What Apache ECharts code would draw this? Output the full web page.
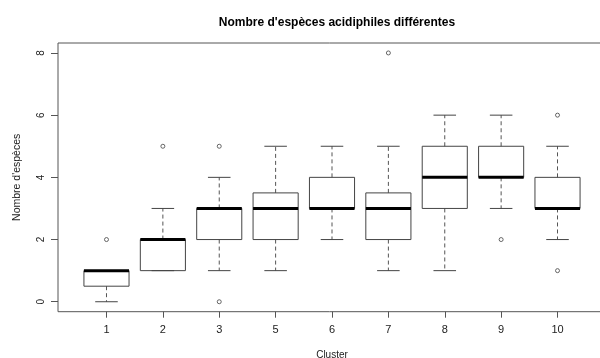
<!DOCTYPE html>
<html><head><meta charset="utf-8">
<script src="https://cdn.jsdelivr.net/npm/echarts@6/dist/echarts.min.js"></script>
<style>html,body{margin:0;padding:0;background:#fff}#c{width:600px;height:358px}</style>
</head><body><div id="c"></div>
<script>
const clusters = ['1','2','3','5','6','7','8','9','10'];
const lowerWhisker = [0, 1, 1, 1, 2, 1, 1, 3, 2];
const q1 = [0.5, 1, 2, 2, 3, 2, 3, 4, 3];
const median = [1, 2, 3, 3, 3, 3, 4, 4, 3];
const q3 = [1, 2, 3, 3.5, 4, 3.5, 5, 5, 4];
const upperWhisker = [1, 3, 4, 5, 5, 5, 6, 6, 5];
const outlierCluster = ['1','2','3','3','7','9','10','10'];
const outlierValue = [2, 5, 0, 5, 8, 2, 1, 6];
const yTicks = [0, 2, 4, 6, 8];

const boxData = clusters.map((c, i) => [i + 1, lowerWhisker[i], q1[i], median[i], q3[i], upperWhisker[i]]);
const outData = outlierCluster.map((c, i) => [clusters.indexOf(c) + 1, outlierValue[i]]);
const xPos = clusters.map((c, i) => i + 1);

const font = 'Liberation Sans, Arial, sans-serif';
const chart = echarts.init(document.getElementById('c'), null, {renderer: 'canvas'});
chart.setOption({
  animation: false,
  backgroundColor: '#fff',
  title: {
    text: "Nombre d'espèces acidiphiles différentes",
    left: 332, top: 12, textAlign: 'center',
    textStyle: {fontFamily: font, fontSize: 12, fontWeight: 'bold', color: '#000'}
  },
  grid: {left: 58, top: 43, right: -6, height: 268.7, show: true, borderColor: '#555', borderWidth: 1, outerBoundsMode: 'none', containLabel: false},
  xAxis: {
    type: 'value', min: 0.14, max: 9.86,
    name: 'Cluster', nameLocation: 'middle', nameGap: 39,
    nameTextStyle: {fontFamily: font, fontSize: 10, color: '#222'},
    axisLine: {show: false, onZero: false},
    splitLine: {show: false},
    axisTick: {show: true, length: 6, customValues: xPos, lineStyle: {color: '#555'}},
    axisLabel: {customValues: xPos, margin: 13, fontFamily: font, fontSize: 11, color: '#222',
      formatter: v => clusters[Math.round(v) - 1]}
  },
  yAxis: {
    type: 'value', min: -0.32, max: 8.32,
    name: "Nombre d'espèces", nameLocation: 'middle', nameGap: 35, nameRotate: 90,
    nameTextStyle: {fontFamily: font, fontSize: 10.5, color: '#222'},
    axisLine: {show: false, onZero: false},
    splitLine: {show: false},
    axisTick: {show: true, length: 7, customValues: yTicks, lineStyle: {color: '#555'}},
    axisLabel: {customValues: yTicks, rotate: 90, margin: 12, fontFamily: font, fontSize: 10, color: '#222'}
  },
  series: [
    {
      type: 'custom',
      data: boxData,
      encode: {x: 0, y: [1, 2, 3, 4, 5]},
      renderItem: function (params, api) {
        const x = api.value(0);
        const lo = api.coord([x, api.value(1)]);
        const b1 = api.coord([x, api.value(2)]);
        const md = api.coord([x, api.value(3)]);
        const b3 = api.coord([x, api.value(4)]);
        const hi = api.coord([x, api.value(5)]);
        const hb = api.size([0.8, 0])[0] / 2;
        const hc = api.size([0.4, 0])[0] / 2;
        const cx = lo[0];
        const stroke = '#444';
        const dash = {stroke: '#555', lineWidth: 1, lineDash: [4, 3]};
        const solid = {stroke: stroke, lineWidth: 1};
        return {
          type: 'group',
          children: [
            {type: 'line', shape: {x1: cx, y1: b3[1], x2: cx, y2: hi[1]}, style: dash},
            {type: 'line', shape: {x1: cx, y1: b1[1], x2: cx, y2: lo[1]}, style: dash},
            {type: 'line', shape: {x1: cx - hc, y1: hi[1], x2: cx + hc, y2: hi[1]}, style: solid},
            {type: 'line', shape: {x1: cx - hc, y1: lo[1], x2: cx + hc, y2: lo[1]}, style: solid},
            {type: 'rect', shape: {x: cx - hb, y: b3[1], width: 2 * hb, height: b1[1] - b3[1]},
              style: {fill: 'none', stroke: stroke, lineWidth: 1}},
            {type: 'line', shape: {x1: cx - hb, y1: md[1], x2: cx + hb, y2: md[1]}, style: {stroke: '#000', lineWidth: 3}}
          ]
        };
      }
    },
    {
      type: 'scatter',
      data: outData,
      symbol: 'circle',
      symbolSize: 4,
      itemStyle: {color: '#fff', borderColor: '#444', borderWidth: 1}
    }
  ]
});
</script></body></html>
